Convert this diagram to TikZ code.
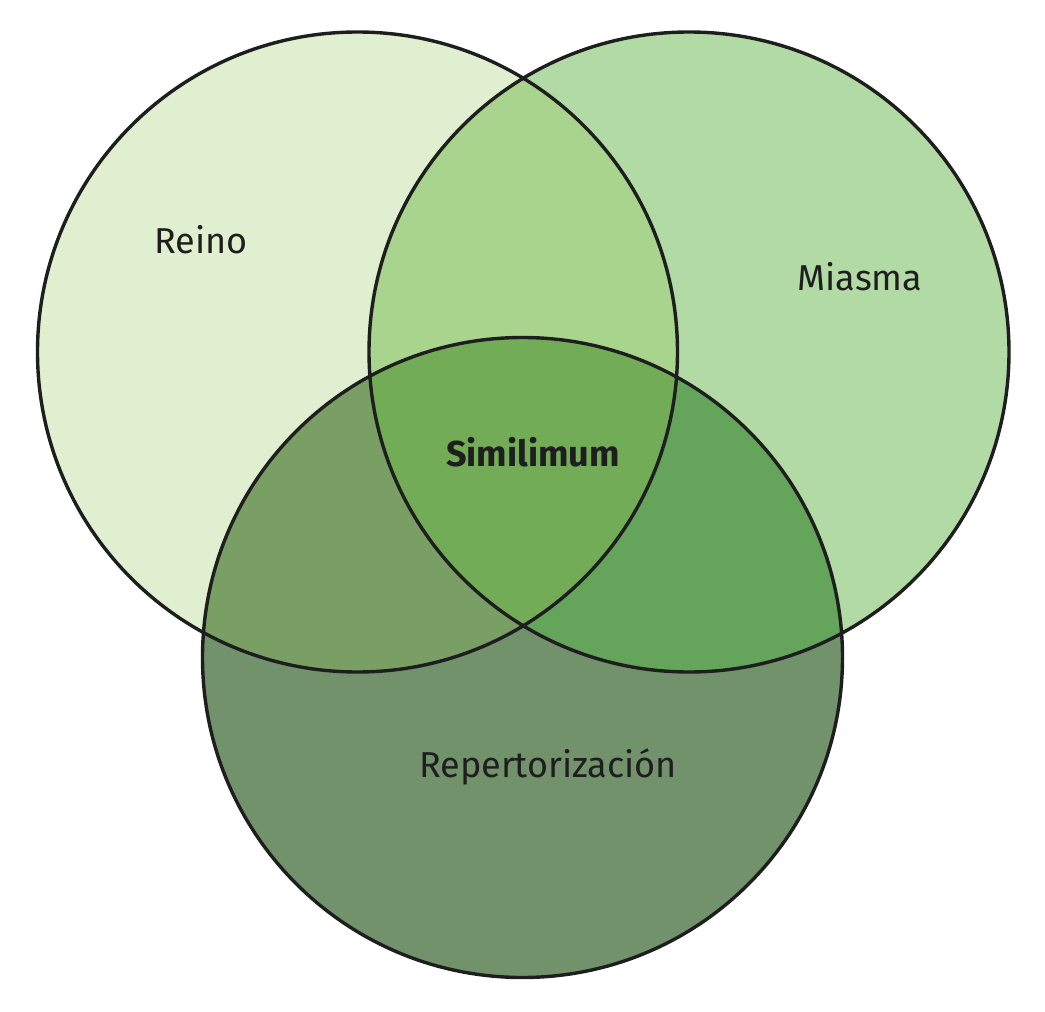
\documentclass[tikz,border=0pt]{standalone}
\usepackage{fontspec}
\setmainfont{Fira Sans}
\definecolor{vnReino}{HTML}{DFEFCF}
\definecolor{vnMiasma}{HTML}{B2DAA5}
\definecolor{vnRepert}{HTML}{72926C}
\definecolor{vnRM}{HTML}{A8D48D}
\definecolor{vnRR}{HTML}{7A9F64}
\definecolor{vnMR}{HTML}{64A55B}
\definecolor{vnAll}{HTML}{72AC56}
\definecolor{vnLine}{HTML}{1E1E1E}
\usetikzlibrary{calc}

\begin{document}
\begin{tikzpicture}[x=0.5pt, y=-0.5pt]
  \tikzset{vnlabel/.style={font=\fontsize{18}{20}\selectfont, text=vnLine}}
  \useasboundingbox (0,0) rectangle (1045,1012);
  % circle centres
  \coordinate (cReino) at (357.5,352);
  \coordinate (cMiasma) at (689,352);
  \coordinate (cRepert) at (522.5,657.5);
  % single sets
  \fill[vnReino] (cReino) circle (320);
  \fill[vnMiasma] (cMiasma) circle (320);
  \fill[vnRepert] (cRepert) circle (320);
  % pairwise overlaps
  \begin{scope}
    \clip (cReino) circle (320);
    \fill[vnRM] (cMiasma) circle (320);
    \fill[vnRR] (cRepert) circle (320);
  \end{scope}
  \begin{scope}
    \clip (cMiasma) circle (320);
    \fill[vnMR] (cRepert) circle (320);
  \end{scope}
  % centre overlap
  \begin{scope}
    \clip (cReino) circle (320);
    \clip (cMiasma) circle (320);
    \fill[vnAll] (cRepert) circle (320);
  \end{scope}
  % outlines
  \draw[vnLine, line width=1.7pt] (cReino) circle (320) (cMiasma) circle (320) (cRepert) circle (320);
  % labels
  \node[vnlabel] (reino) at (201,240) {Reino};
  \node[vnlabel] (miasma) at (860,277) {Miasma};
  \node[vnlabel, font=\fontsize{18}{20}\selectfont\bfseries] (simil) at (533,452) {Similimum};
  \node[vnlabel] (repert) at (548,767) {Repertorización};
\end{tikzpicture}
\end{document}
